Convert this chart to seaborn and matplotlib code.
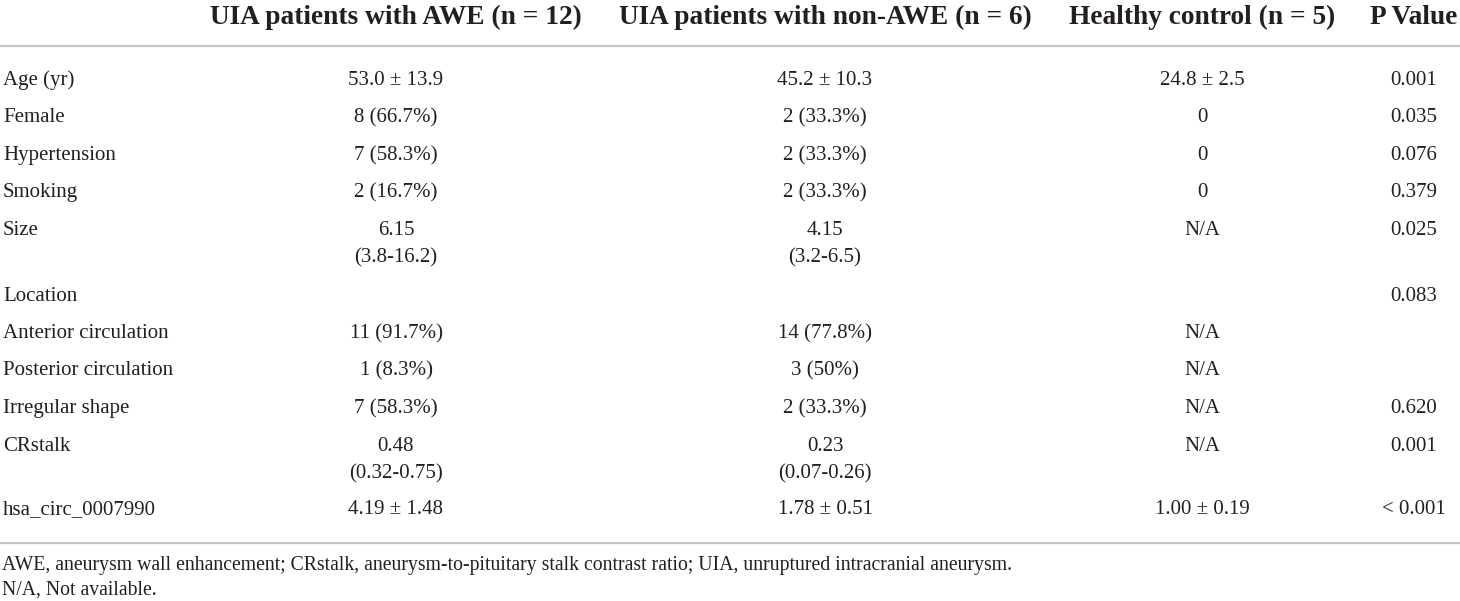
import matplotlib
matplotlib.use("Agg")
import matplotlib.pyplot as plt
import seaborn as sns

# ---------------- data ----------------
headers = ["UIA patients with AWE (n = 12)", "UIA patients with non-AWE (n = 6)",
           "Healthy control (n = 5)", "P Value"]
row_labels = ["Age (yr)", "Female", "Hypertension", "Smoking", "Size", "Location",
              "Anterior circulation", "Posterior circulation", "Irregular shape",
              "CRstalk", "hsa_circ_0007990"]
awe = ["53.0 ± 13.9", "8 (66.7%)", "7 (58.3%)", "2 (16.7%)", "6.15\n(3.8-16.2)", "",
       "11 (91.7%)", "1 (8.3%)", "7 (58.3%)", "0.48\n(0.32-0.75)", "4.19 ± 1.48"]
non_awe = ["45.2 ± 10.3", "2 (33.3%)", "2 (33.3%)", "2 (33.3%)", "4.15\n(3.2-6.5)", "",
           "14 (77.8%)", "3 (50%)", "2 (33.3%)", "0.23\n(0.07-0.26)", "1.78 ± 0.51"]
healthy = ["24.8 ± 2.5", "0", "0", "0", "N/A", "", "N/A", "N/A", "N/A", "N/A",
           "1.00 ± 0.19"]
p_values = ["0.001", "0.035", "0.076", "0.379", "0.025", "0.083", "", "", "0.620",
            "0.001", "< 0.001"]
footnotes = ["AWE, aneurysm wall enhancement; CRstalk, aneurysm-to-pituitary stalk "
             "contrast ratio; UIA, unruptured intracranial aneurysm.",
             "N/A, Not available."]

# ---------------- style ----------------
sns.set_theme(style="white")
plt.rcParams["font.family"] = ["Liberation Serif", "DejaVu Serif"]
TXT = "#231f20"
RULE = "#c4c4c4"

W, H, DPI = 1460, 601, 100
fig = plt.figure(figsize=(W / DPI, H / DPI), dpi=DPI)
ax = fig.add_axes([0, 0, 1, 1])
ax.set_xlim(0, W)
ax.set_ylim(H, 0)
ax.axis("off")
renderer = fig.canvas.get_renderer()


def fit_size(text, target_px, weight="normal", base=14.0):
    t = ax.text(0, 0, text, fontsize=base, fontweight=weight)
    w = t.get_window_extent(renderer).width
    t.remove()
    return base * target_px / w


hdr_fs = fit_size(headers[0], 373, "bold")
dat_fs = fit_size("(3.8-16.2)", 84)
fn_fs = fit_size(footnotes[0], 1016)

PX = DPI / 72.0  # px per point


def put(x, ycenter, s, fs, ha="center", weight="normal"):
    # place text so that its cap/digit middle sits at ycenter
    base = ycenter + 0.34 * fs * PX
    ax.text(x, base, s, fontsize=fs, fontweight=weight, ha=ha, va="baseline",
            color=TXT)


col_x = [396, 825, 1202, 1414]
label_x = 3
header_y = 15
rule_y = [46, 543]
row_y = [78, 115, 153, 190, 228, 294, 331, 368, 406, 444, 507]
line_gap = 27

for x, h in zip(col_x, headers):
    put(x, header_y, h, hdr_fs, weight="bold")

for y in rule_y:
    ax.axhline(y, color=RULE, lw=1.6)

columns = [awe, non_awe, healthy, p_values]
for i, lab in enumerate(row_labels):
    put(label_x, row_y[i], lab, dat_fs, ha="left")
    for x, col in zip(col_x, columns):
        for k, part in enumerate(col[i].split("\n")):
            if part:
                put(x, row_y[i] + k * line_gap, part, dat_fs)

fn_y = [563, 588]
for y, f in zip(fn_y, footnotes):
    put(2, y, f, fn_fs, ha="left")

fig.savefig("out.png", dpi=DPI, facecolor="white")
